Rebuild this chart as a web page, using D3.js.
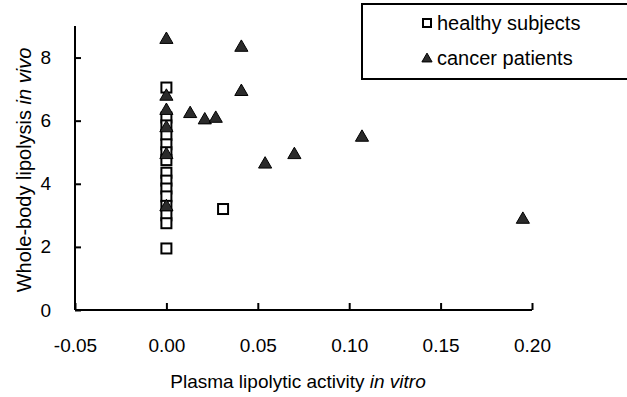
<!DOCTYPE html>
<html>
<head>
<meta charset="utf-8">
<script src="https://cdn.jsdelivr.net/npm/d3@7"></script>
<style>
  body { margin: 0; background: #fff; }
  text { font-family: "Liberation Sans", Arial, sans-serif; fill: #000; }
</style>
</head>
<body>
<div class="chart"></div>
<script>
// healthy subjects (squares)
const healthyX = [0, 0, 0, 0, 0, 0, 0, 0, 0, 0, 0, 0, 0, 0, 0, 0.031];
const healthyY = [7.05, 6.1, 5.85, 5.55, 5.25, 5.0, 4.75, 4.35, 4.1, 3.85, 3.6, 3.3, 3.0, 2.75, 1.95, 3.2];

// cancer patients (triangles)
const cancerX = [0, 0, 0, 0, 0, 0, 0.013, 0.021, 0.027, 0.041, 0.041, 0.054, 0.07, 0.107, 0.195];
const cancerY = [8.6, 6.8, 6.35, 5.8, 4.95, 3.3, 6.25, 6.05, 6.1, 8.35, 6.95, 4.65, 4.95, 5.5, 2.9];

const xTicks = [-0.05, 0, 0.05, 0.1, 0.15, 0.2];
const yTicks = [0, 2, 4, 6, 8];
const legendLabels = ["healthy subjects", "cancer patients"];

const w = 627;
const h = 397;

const svg = d3.select(".chart").append("svg")
  .attr("width", w)
  .attr("height", h);

const x = d3.scaleLinear().domain([-0.05, 0.2]).range([75, 532]);
const y = d3.scaleLinear().domain([0, 9]).range([310, 26]);

// hyphen minus like the original
const fmtX = d => d3.format(".2f")(d).replace("\u2212", "-");

// axes
const xAxis = svg.append("g")
  .attr("transform", `translate(0,${y(0)})`)
  .call(d3.axisBottom(x).tickValues(xTicks).tickFormat(fmtX)
        .tickSizeInner(-7).tickSizeOuter(0).tickPadding(29));
xAxis.select(".domain").attr("stroke-width", 2).attr("d", `M${x(-0.05)},0H${x(0.2)}`);
xAxis.selectAll(".tick line").attr("stroke-width", 2);
xAxis.selectAll("text").attr("font-size", 19);

const yAxis = svg.append("g")
  .attr("transform", `translate(${x(-0.05)},0)`)
  .call(d3.axisLeft(y).tickValues(yTicks).tickFormat(d3.format("d"))
        .tickSizeInner(-6).tickSizeOuter(0).tickPadding(24));
yAxis.select(".domain").attr("stroke-width", 2).attr("d", `M0,${y(9)}V${y(0)}`);
yAxis.selectAll(".tick line").attr("stroke-width", 2);
yAxis.selectAll("text").attr("font-size", 19);

// axis titles
const xt = svg.append("text")
  .attr("x", 298).attr("y", 388)
  .attr("text-anchor", "middle")
  .attr("font-size", 19);
xt.append("tspan").text("Plasma lipolytic activity ");
xt.append("tspan").attr("font-style", "italic").text("in vitro");

const yt = svg.append("text")
  .attr("transform", "translate(31,170) rotate(-90)")
  .attr("text-anchor", "middle")
  .attr("font-size", 20);
yt.append("tspan").text("Whole-body lipolysis ");
yt.append("tspan").attr("font-style", "italic").text("in vivo");

// markers
const sq = 10;
const tri = d3.symbol().type(d3.symbolTriangle).size(75);

svg.append("g").selectAll("rect")
  .data(healthyX.map((d, i) => [d, healthyY[i]]))
  .join("rect")
  .attr("x", d => x(d[0]) - sq / 2)
  .attr("y", d => y(d[1]) - sq / 2)
  .attr("width", sq).attr("height", sq)
  .attr("fill", "#fff").attr("stroke", "#000").attr("stroke-width", 2);

svg.append("g").selectAll("path")
  .data(cancerX.map((d, i) => [d, cancerY[i]]))
  .join("path")
  .attr("d", tri)
  .attr("transform", d => `translate(${x(d[0])},${y(d[1]) + 1})`)
  .attr("fill", "#2b2b2b").attr("stroke", "#000").attr("stroke-width", 1);

// legend
const legend = svg.append("g");
legend.append("rect")
  .attr("x", 362).attr("y", 4).attr("width", 270).attr("height", 75)
  .attr("fill", "#fff").attr("stroke", "#000").attr("stroke-width", 2);

legendLabels.forEach((lab, i) => {
  const ly = 23 + i * 35;
  if (i === 0) {
    legend.append("rect")
      .attr("x", 423).attr("y", ly - 4).attr("width", 8).attr("height", 8)
      .attr("fill", "#fff").attr("stroke", "#000").attr("stroke-width", 2);
  } else {
    legend.append("path")
      .attr("d", d3.symbol().type(d3.symbolTriangle).size(45))
      .attr("transform", `translate(427,${ly + 1})`)
      .attr("fill", "#2b2b2b").attr("stroke", "#000");
  }
  legend.append("text")
    .attr("x", 437).attr("y", ly + 7)
    .attr("font-size", 20)
    .text(lab);
});
</script>
</body>
</html>
